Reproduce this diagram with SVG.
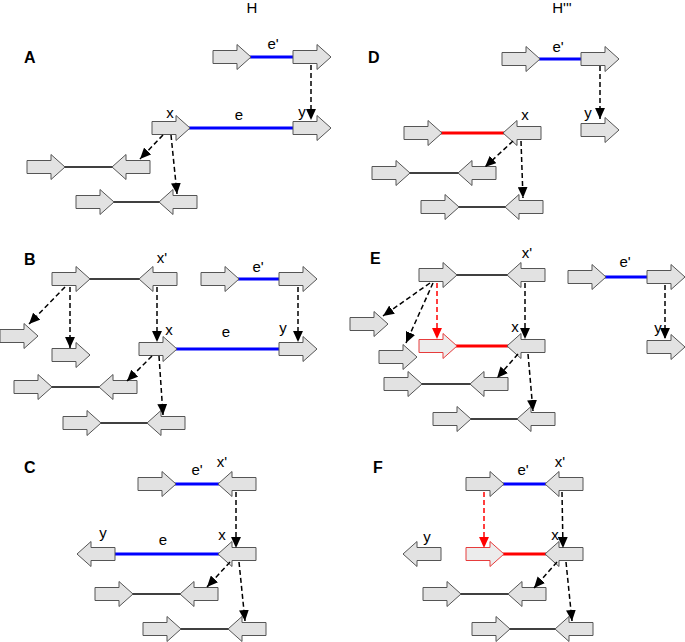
<svg xmlns="http://www.w3.org/2000/svg" xmlns:xlink="http://www.w3.org/1999/xlink" width="685" height="642" viewBox="0 0 685 642">
<style>
.g{fill:#e2e2e2;stroke:#555;stroke-width:1}
.gr{fill:#ececec;stroke:#e63c3c;stroke-width:1}
.lk{stroke:#000;stroke-width:1.6;fill:none}
.lb{stroke:#0000ff;stroke-width:3.2;fill:none}
.lr{stroke:#ff0000;stroke-width:3.2;fill:none}
.d{stroke:#000;stroke-width:1.5;stroke-dasharray:5,3;fill:none;marker-end:url(#mk)}
.dr{stroke:#ff0000;stroke-width:1.5;stroke-dasharray:5,3;fill:none;marker-end:url(#mr)}
text{font-family:"Liberation Sans",Arial,sans-serif;font-size:15px;fill:#000;text-anchor:middle}
.p{font-weight:bold;font-size:16px;text-anchor:start}
</style>
<defs>
<path id="ra" d="M0,-6.5 H24 V-12.5 L38,0 L24,12.5 V6.5 H0 Z"/>
<path id="la" d="M0,0 L14,-12.5 V-6.5 H38 V6.5 H14 V12.5 Z"/>
<marker id="mk" viewBox="0 0 10 9" refX="10" refY="4.5" markerWidth="11" markerHeight="10" markerUnits="userSpaceOnUse" orient="auto"><path d="M0,0 L10,4.5 L0,9 Z" fill="#000"/></marker>
<marker id="mr" viewBox="0 0 10 9" refX="10" refY="4.5" markerWidth="11" markerHeight="10" markerUnits="userSpaceOnUse" orient="auto"><path d="M0,0 L10,4.5 L0,9 Z" fill="#ff0000"/></marker>
</defs>

<text x="252" y="13">H</text>
<text x="562" y="13">H'''</text>

<!-- Panel A -->
<g id="panelA">
<text class="p" x="24" y="63">A</text>
<g id="A-eprime"><path class="lb" d="M250,57 H294"/><use href="#ra" class="g" x="213" y="57"/><use href="#ra" class="g" x="293" y="57"/><text x="273" y="49">e'</text></g>
<g id="A-e"><path class="lb" d="M189,128 H294"/><use href="#ra" class="g" x="152" y="128"/><use href="#ra" class="g" x="293" y="128"/><text x="170" y="118">x</text><text x="239" y="120">e</text><text x="302" y="117">y</text></g>
<g id="A-r3"><path class="lk" d="M64,167 H113"/><use href="#ra" class="g" x="27" y="167"/><use href="#la" class="g" x="112" y="167"/></g>
<g id="A-r4"><path class="lk" d="M113,202 H160"/><use href="#ra" class="g" x="76" y="202"/><use href="#la" class="g" x="159" y="202"/></g>
</g>

<!-- Panel B -->
<g id="panelB">
<text class="p" x="24" y="265">B</text>
<g id="B-r1"><path class="lk" d="M89,279 H140"/><use href="#ra" class="g" x="52" y="279"/><use href="#la" class="g" x="139" y="279"/><text x="162" y="263">x'</text></g>
<g id="B-eprime"><path class="lb" d="M238,279 H280"/><use href="#ra" class="g" x="201" y="279"/><use href="#ra" class="g" x="279" y="279"/><text x="258" y="272">e'</text></g>
<g id="B-e"><path class="lb" d="M176,349 H280"/><use href="#ra" class="g" x="139" y="349"/><use href="#ra" class="g" x="279" y="349"/><text x="169" y="335">x</text><text x="226" y="337">e</text><text x="283" y="333">y</text></g>
<g id="B-s1"><use href="#ra" class="g" x="0" y="336"/></g>
<g id="B-s2"><use href="#ra" class="g" x="52" y="355"/></g>
<g id="B-r3"><path class="lk" d="M51,387 H100"/><use href="#ra" class="g" x="14" y="387"/><use href="#la" class="g" x="99" y="387"/></g>
<g id="B-r4"><path class="lk" d="M100,423 H148"/><use href="#ra" class="g" x="63" y="423"/><use href="#la" class="g" x="147" y="423"/></g>
</g>

<!-- Panel C -->
<g id="panelC">
<text class="p" x="24" y="473">C</text>
<g id="C-r1"><path class="lb" d="M175,484 H219"/><use href="#ra" class="g" x="138" y="484"/><use href="#la" class="g" x="218" y="484"/><text x="197" y="475">e'</text><text x="222" y="467">x'</text></g>
<g id="C-r2"><path class="lb" d="M114,554 H219"/><use href="#la" class="g" x="77" y="554"/><use href="#la" class="g" x="218" y="554"/><text x="103" y="538">y</text><text x="163" y="545">e</text><text x="222" y="540">x</text></g>
<g id="C-r3"><path class="lk" d="M132,594 H181"/><use href="#ra" class="g" x="95" y="594"/><use href="#la" class="g" x="180" y="594"/></g>
<g id="C-r4"><path class="lk" d="M180,629 H229"/><use href="#ra" class="g" x="143" y="629"/><use href="#la" class="g" x="228" y="629"/></g>
</g>

<!-- Panel D -->
<g id="panelD">
<text class="p" x="368" y="63">D</text>
<g id="D-eprime"><path class="lb" d="M539,59 H582"/><use href="#ra" class="g" x="502" y="59"/><use href="#ra" class="g" x="581" y="59"/><text x="558" y="52">e'</text></g>
<g id="D-y"><use href="#ra" class="g" x="581" y="130"/><text x="588" y="118">y</text></g>
<g id="D-r2"><path class="lr" d="M441,133 H504"/><use href="#ra" class="g" x="404" y="133"/><use href="#la" class="g" x="503" y="133"/><text x="525" y="120">x</text></g>
<g id="D-r3"><path class="lk" d="M409,173 H459"/><use href="#ra" class="g" x="372" y="173"/><use href="#la" class="g" x="458" y="173"/></g>
<g id="D-r4"><path class="lk" d="M458,207 H506"/><use href="#ra" class="g" x="421" y="207"/><use href="#la" class="g" x="505" y="207"/></g>
</g>

<!-- Panel E -->
<g id="panelE">
<text class="p" x="370" y="264">E</text>
<g id="E-r1"><path class="lk" d="M456,275 H508"/><use href="#ra" class="g" x="419" y="275"/><use href="#la" class="g" x="507" y="275"/><text x="527" y="258">x'</text></g>
<g id="E-eprime"><path class="lb" d="M605,277 H648"/><use href="#ra" class="g" x="568" y="277"/><use href="#ra" class="g" x="647" y="277"/><text x="625" y="267">e'</text></g>
<g id="E-y"><use href="#ra" class="g" x="647" y="347"/><text x="658" y="333">y</text></g>
<g id="E-s1"><use href="#ra" class="g" x="350" y="324"/></g>
<g id="E-s2"><use href="#ra" class="g" x="379" y="357"/></g>
<g id="E-r2"><path class="lr" d="M456,346 H508"/><use href="#ra" class="gr" x="419" y="346"/><use href="#la" class="g" x="507" y="346"/><text x="515" y="332">x</text></g>
<g id="E-r3"><path class="lk" d="M421,384 H471"/><use href="#ra" class="g" x="384" y="384"/><use href="#la" class="g" x="470" y="384"/></g>
<g id="E-r4"><path class="lk" d="M470,419 H518"/><use href="#ra" class="g" x="433" y="419"/><use href="#la" class="g" x="517" y="419"/></g>
</g>

<!-- Panel F -->
<g id="panelF">
<text class="p" x="373" y="473">F</text>
<g id="F-r1"><path class="lb" d="M503,484 H546"/><use href="#ra" class="g" x="466" y="484"/><use href="#la" class="g" x="545" y="484"/><text x="523" y="475">e'</text><text x="560" y="467">x'</text></g>
<g id="F-y"><use href="#la" class="g" x="403" y="554"/><text x="427" y="542">y</text></g>
<g id="F-r2"><path class="lr" d="M503,554 H546"/><use href="#ra" class="gr" x="466" y="554"/><use href="#la" class="g" x="545" y="554"/><text x="555" y="540">x</text></g>
<g id="F-r3"><path class="lk" d="M460,594 H509"/><use href="#ra" class="g" x="423" y="594"/><use href="#la" class="g" x="508" y="594"/></g>
<g id="F-r4"><path class="lk" d="M509,629 H556"/><use href="#ra" class="g" x="472" y="629"/><use href="#la" class="g" x="555" y="629"/></g>
</g>

<!-- Connectors -->
<g id="connectors">
<path class="d" d="M311,65 L311,120"/>
<path class="d" d="M163,135 L140,159"/>
<path class="d" d="M171,135 L177,194"/>

<path class="d" d="M298,287 L298,342"/>
<path class="d" d="M157,287 L157,342"/>
<path class="d" d="M65,287 L29,324"/>
<path class="d" d="M70,287 L70,348"/>
<path class="d" d="M152,356 L127,381"/>
<path class="d" d="M159,356 L163,415"/>

<path class="d" d="M236,492 L236,548"/>
<path class="d" d="M230,562 L207,587"/>
<path class="d" d="M239,562 L245,621"/>

<path class="d" d="M600,66 L600,119"/>
<path class="d" d="M513,141 L485,167"/>
<path class="d" d="M521,141 L523,198"/>

<path class="d" d="M665,285 L665,339"/>
<path class="d" d="M430,283 L383,316"/>
<path class="d" d="M433,283 L406,343"/>
<path class="dr" d="M437,283 L437,339"/>
<path class="d" d="M525,283 L525,339"/>
<path class="d" d="M518,354 L497,378"/>
<path class="d" d="M528,354 L533,411"/>

<path class="dr" d="M484,492 L484,548"/>
<path class="d" d="M562,492 L563,548"/>
<path class="d" d="M557,562 L534,588"/>
<path class="d" d="M566,562 L572,621"/>
</g>
</svg>
